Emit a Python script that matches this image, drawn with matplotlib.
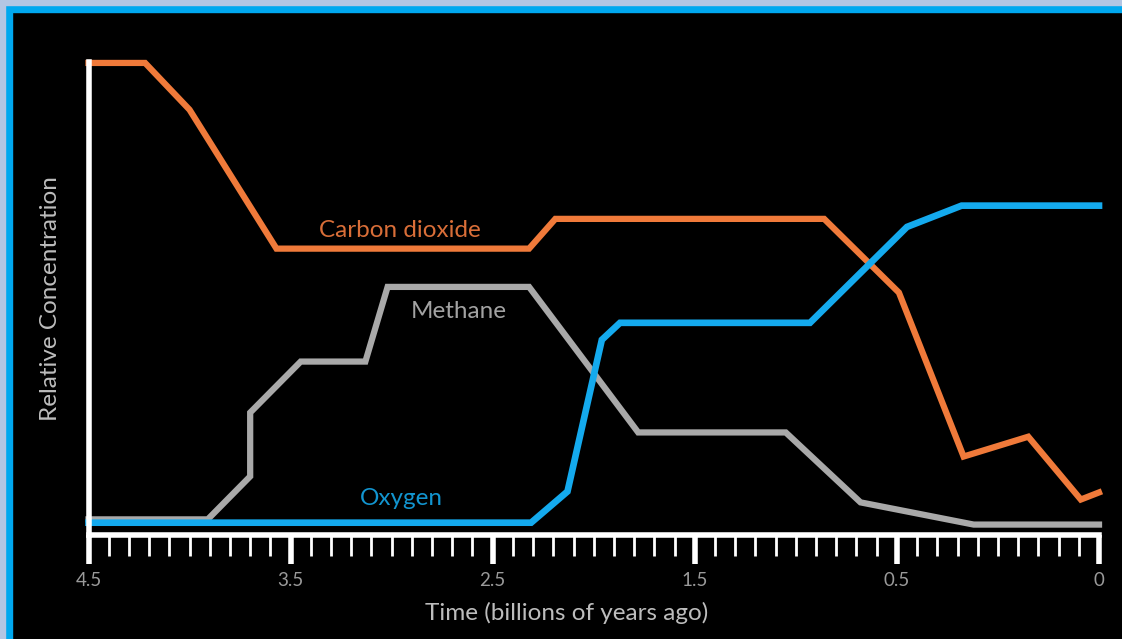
import matplotlib.pyplot as plt
from matplotlib.patches import Rectangle
from matplotlib.ticker import MultipleLocator

plt.rcParams['font.family'] = ['Lato', 'DejaVu Sans']

# x is the position along the axis (one unit between labelled ticks)
tick_pos = [0, 1, 2, 3, 4, 5]
tick_labels = ['4.5', '3.5', '2.5', '1.5', '0.5', '0']

co2_x = [0, 0.28, 0.50, 0.93, 2.18, 2.31, 3.64, 4.01, 4.33, 4.65, 4.91, 5.0]
co2_y = [99.8, 99.8, 89.9, 60.5, 60.5, 66.8, 66.8, 51.2, 16.5, 20.7, 7.4, 8.9]

ch4_x = [0, 0.59, 0.80, 0.80, 1.05, 1.37, 1.48, 2.18, 2.72, 3.45, 3.82, 4.38, 5.0]
ch4_y = [3.2, 3.2, 12.3, 25.8, 36.6, 36.6, 52.4, 52.4, 21.6, 21.6, 6.8, 2.1, 2.1]

o2_x = [0, 2.19, 2.37, 2.54, 2.63, 3.57, 4.05, 4.32, 5.0]
o2_y = [2.5, 2.5, 9.1, 41.2, 44.8, 44.8, 65.1, 69.6, 69.6]

orange = '#f07a3a'
grey = '#a9a9a9'
blue = '#14aaee'

fig = plt.figure(figsize=(11.22, 6.39), dpi=100, facecolor='black')

# frame round the picture
fig.patches.append(Rectangle((0, 0), 12 / 1122, 1, transform=fig.transFigure, color='#00a8ef', zorder=0))
fig.patches.append(Rectangle((0, 1 - 12 / 639), 1, 12 / 639, transform=fig.transFigure, color='#00a8ef', zorder=0))
fig.patches.append(Rectangle((0, 0), 5 / 1122, 1, transform=fig.transFigure, color='#b3c6e3', zorder=1))
fig.patches.append(Rectangle((0, 1 - 5 / 639), 1, 5 / 639, transform=fig.transFigure, color='#b3c6e3', zorder=1))

ax = fig.add_axes([88.5 / 1122, (639 - 534.5) / 639, 1010.5 / 1122, (534.5 - 62) / 639])
ax.set_facecolor('black')
ax.set_xlim(0, 5)
ax.set_ylim(0, 100)

ax.plot(ch4_x, ch4_y, color=grey, lw=4.5, solid_joinstyle='miter', clip_on=False)
ax.plot(co2_x, co2_y, color=orange, lw=4.5, solid_joinstyle='miter', clip_on=False)
ax.plot(o2_x, o2_y, color=blue, lw=4.8, solid_joinstyle='miter', clip_on=False)

ax.text(1.54, 64.3, 'Carbon dioxide', color='#d96e38', fontsize=17.5, ha='center', va='center')
ax.text(1.83, 47.3, 'Methane', color='#a2a2a2', fontsize=17.5, ha='center', va='center')
ax.text(1.55, 7.6, 'Oxygen', color='#1295d0', fontsize=17.5, ha='center', va='center')

for s in ['top', 'right']:
    ax.spines[s].set_visible(False)
for s in ['left', 'bottom']:
    ax.spines[s].set_color('white')
    ax.spines[s].set_linewidth(4)
    ax.spines[s].set_zorder(5)

ax.set_xticks(tick_pos)
ax.set_xticklabels(tick_labels)
ax.xaxis.set_minor_locator(MultipleLocator(0.1))
ax.tick_params(axis='x', which='major', direction='out', length=21, width=4, color='white',
               labelcolor='#9a9a9a', labelsize=13.5, pad=6)
ax.tick_params(axis='x', which='minor', direction='out', length=15, width=2, color='white')
ax.set_yticks([])

ax.set_xlabel('Time (billions of years ago)', color='#bdbdbd', fontsize=17.5, va='center')
ax.xaxis.set_label_coords(0.4735, -0.167)
ax.set_ylabel('Relative Concentration', color='#bdbdbd', fontsize=17.5, labelpad=20)

fig.savefig('out.png', dpi=100, facecolor='black')
